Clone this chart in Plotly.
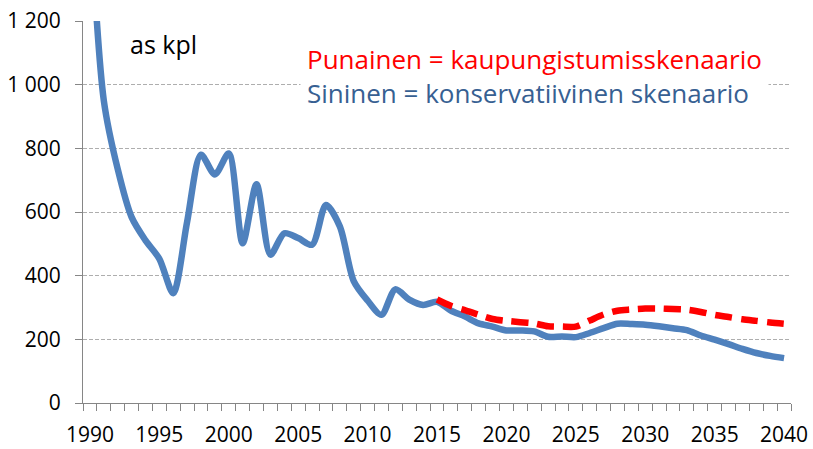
import plotly.graph_objects as go

# ---- data ----
years = list(range(1990, 2041))
blue_values = [1550, 950, 735, 584, 511, 453, 345, 569, 780, 718,
               784, 502, 687, 466, 533, 518, 497, 622, 555, 383,
               322, 277, 357, 325, 308, 318, 290, 272, 250, 240,
               228, 228, 225, 208, 209, 207, 220, 235, 249, 248,
               246, 241, 235, 229, 212, 199, 185, 170, 157, 148,
               141]
red_years = list(range(2015, 2041))
red_values = [325, 305, 292, 277, 264, 258, 254, 250, 241, 240,
              240, 259, 278, 290, 294, 297, 297, 295, 293, 286,
              277, 270, 263, 258, 253, 249]
x_tick_labels = [str(y) for y in range(1990, 2041, 5)]
y_tick_vals = [0, 200, 400, 600, 800, 1000, 1200]
y_tick_labels = ["0", "200", "400", "600", "800", "1 000", "1 200"]

FONT = "Open Sans"
AXIS_GRAY = "#868686"

fig = go.Figure()
fig.add_trace(go.Scatter(
    x=years, y=blue_values, mode="lines",
    line=dict(color="#4F81BD", width=6.5, shape="spline", smoothing=0.8),
    showlegend=False, hoverinfo="skip",
))
fig.add_trace(go.Scatter(
    x=red_years, y=red_values, mode="lines",
    line=dict(color="#FF0000", width=6.5, shape="spline", smoothing=0.8,
              dash="17px,9px"),
    showlegend=False, hoverinfo="skip",
))

fig.update_layout(
    width=813, height=449,
    margin=dict(l=83, r=22, t=21, b=46),
    paper_bgcolor="white", plot_bgcolor="white",
    font=dict(family=FONT, size=21, color="black"),
    xaxis=dict(
        range=[1989.5, 2040.5],
        automargin=False,
        tickmode="array",
        tickvals=[int(t) for t in x_tick_labels],
        ticktext=x_tick_labels,
        ticks="outside", ticklen=7, tickcolor="rgba(0,0,0,0)",
        showline=True, linecolor=AXIS_GRAY, linewidth=1,
        showgrid=False, zeroline=False,
        tickfont=dict(family=FONT, size=21, color="black"),
        ticklabelstandoff=6,
        minor=dict(ticks="outside", ticklen=7, tickcolor=AXIS_GRAY,
                   tickwidth=1, tick0=1989.5, dtick=1, showgrid=False),
    ),
    yaxis=dict(
        range=[0, 1200],
        automargin=False,
        tickmode="array",
        tickvals=y_tick_vals,
        ticktext=y_tick_labels,
        ticks="outside", ticklen=7, tickcolor=AXIS_GRAY, tickwidth=1,
        showline=True, linecolor=AXIS_GRAY, linewidth=1,
        showgrid=True, gridcolor="#AEAEAE", gridwidth=1, griddash="4px,2px",
        zeroline=False,
        tickfont=dict(family=FONT, size=21, color="black"),
        ticklabelstandoff=10,
    ),
)

fig.add_annotation(
    xref="paper", yref="paper", x=0.063, y=0.939,
    xanchor="left", yanchor="middle",
    text="as kpl", showarrow=False,
    font=dict(family=FONT, size=25, color="black"),
)
fig.add_annotation(
    xref="paper", yref="paper", x=0.306, y=0.857,
    xanchor="left", yanchor="middle", align="left",
    text=("<span style='color:#FF0000'>Punainen = kaupungistumisskenaario</span><br>"
          "<span style='color:#376092'>Sininen = konservatiivinen skenaario</span>"),
    showarrow=False, bgcolor="white", borderpad=6,
    font=dict(family=FONT, size=26),
)

fig.write_html("out.html", config={"displayModeBar": False},
               post_script="document.body.style.margin='0';")
